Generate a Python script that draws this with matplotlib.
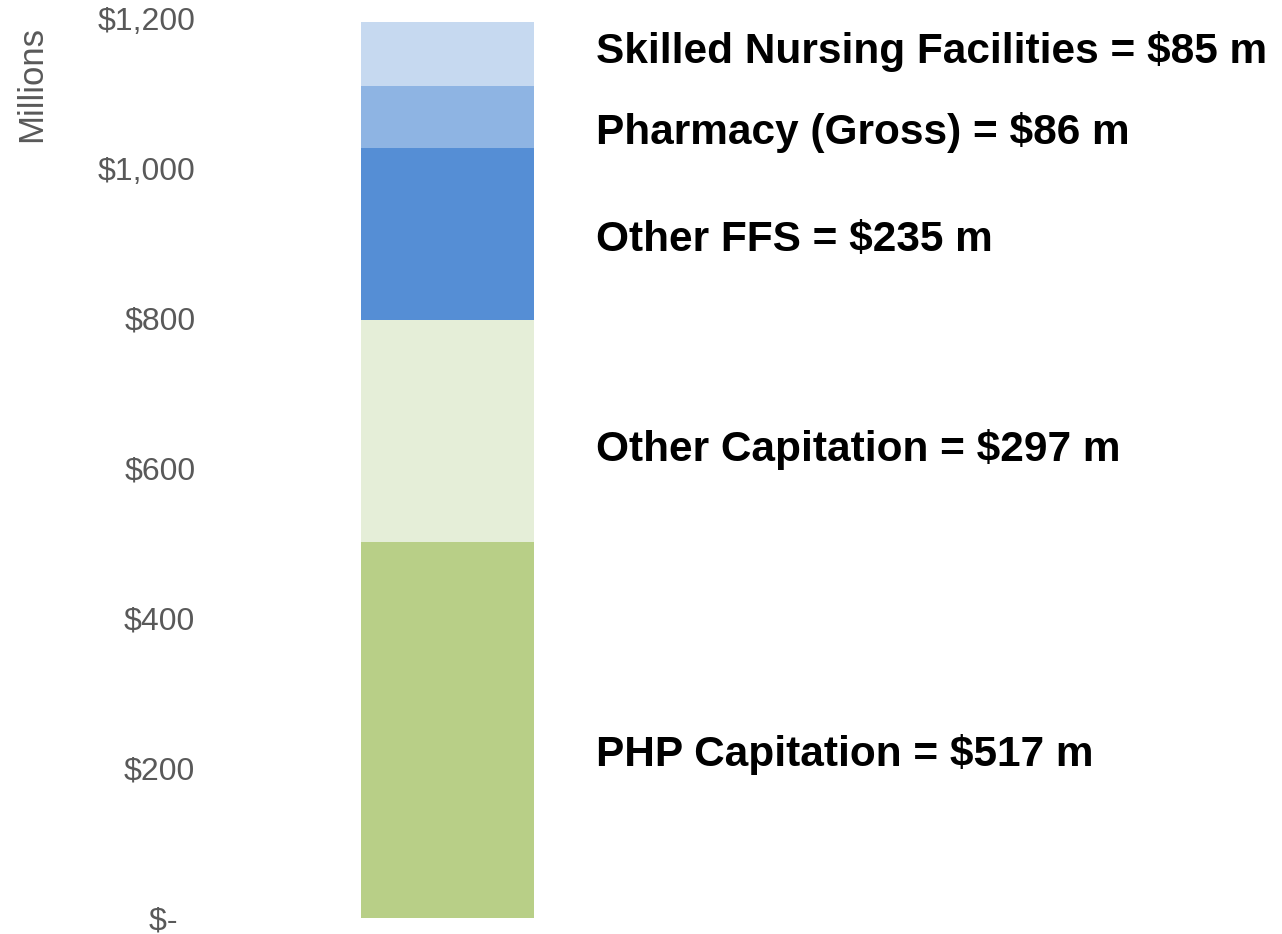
import matplotlib.pyplot as plt
from matplotlib.ticker import FuncFormatter, MultipleLocator
import numpy as np

plt.rcParams['font.family'] = ['Liberation Sans', 'DejaVu Sans']

# Data (millions) - segment heights as drawn, bottom to top
categories = ["PHP Capitation", "Other Capitation", "Other FFS",
              "Pharmacy (Gross)", "Skilled Nursing Facilities"]
drawn_values = [501, 296, 230, 82, 86]
label_values = [517, 297, 235, 86, 85]
colors = ['#B8CF87', '#E5EED8', '#558ED5', '#8EB4E3', '#C6D9F0']

# small vertical nudges for the labels (data units)
label_nudge = [-33, -25, -8, -21, 3]

fig = plt.figure(figsize=(12.82, 9.34), dpi=100)
ax = fig.add_axes([205 / 1282, 16 / 934, 1 - 205 / 1282, 900 / 934])

bottoms = np.concatenate([[0], np.cumsum(drawn_values)[:-1]])
for val, bot, col in zip(drawn_values, bottoms, colors):
    ax.bar(0, val, bottom=bot, width=0.6, color=col, edgecolor='none')

for cat, lv, val, bot, dy in zip(categories, label_values, drawn_values, bottoms, label_nudge):
    ax.text(0.515, bot + val / 2 + dy, f"{cat} = ${lv} m",
            fontsize=30.5, fontweight='bold', color='black',
            ha='left', va='center', clip_on=False)

ax.set_xlim(-0.841, 2.894)
ax.set_ylim(0, 1200)
ax.yaxis.set_major_locator(MultipleLocator(200))


def fmt(v, pos):
    if v == 0:
        return "$-  "
    return f"${v:,.0f}"


ax.yaxis.set_major_formatter(FuncFormatter(fmt))
ax.tick_params(axis='y', length=0, pad=7, labelsize=23, labelcolor='#595959')
ax.set_xticks([])
for s in ax.spines.values():
    s.set_visible(False)

fig.text(32 / 1282, 1 - 84 / 934, "Millions", rotation=90, fontsize=25,
         color='#595959', ha='center', va='center')

fig.savefig("out.png", dpi=100)
